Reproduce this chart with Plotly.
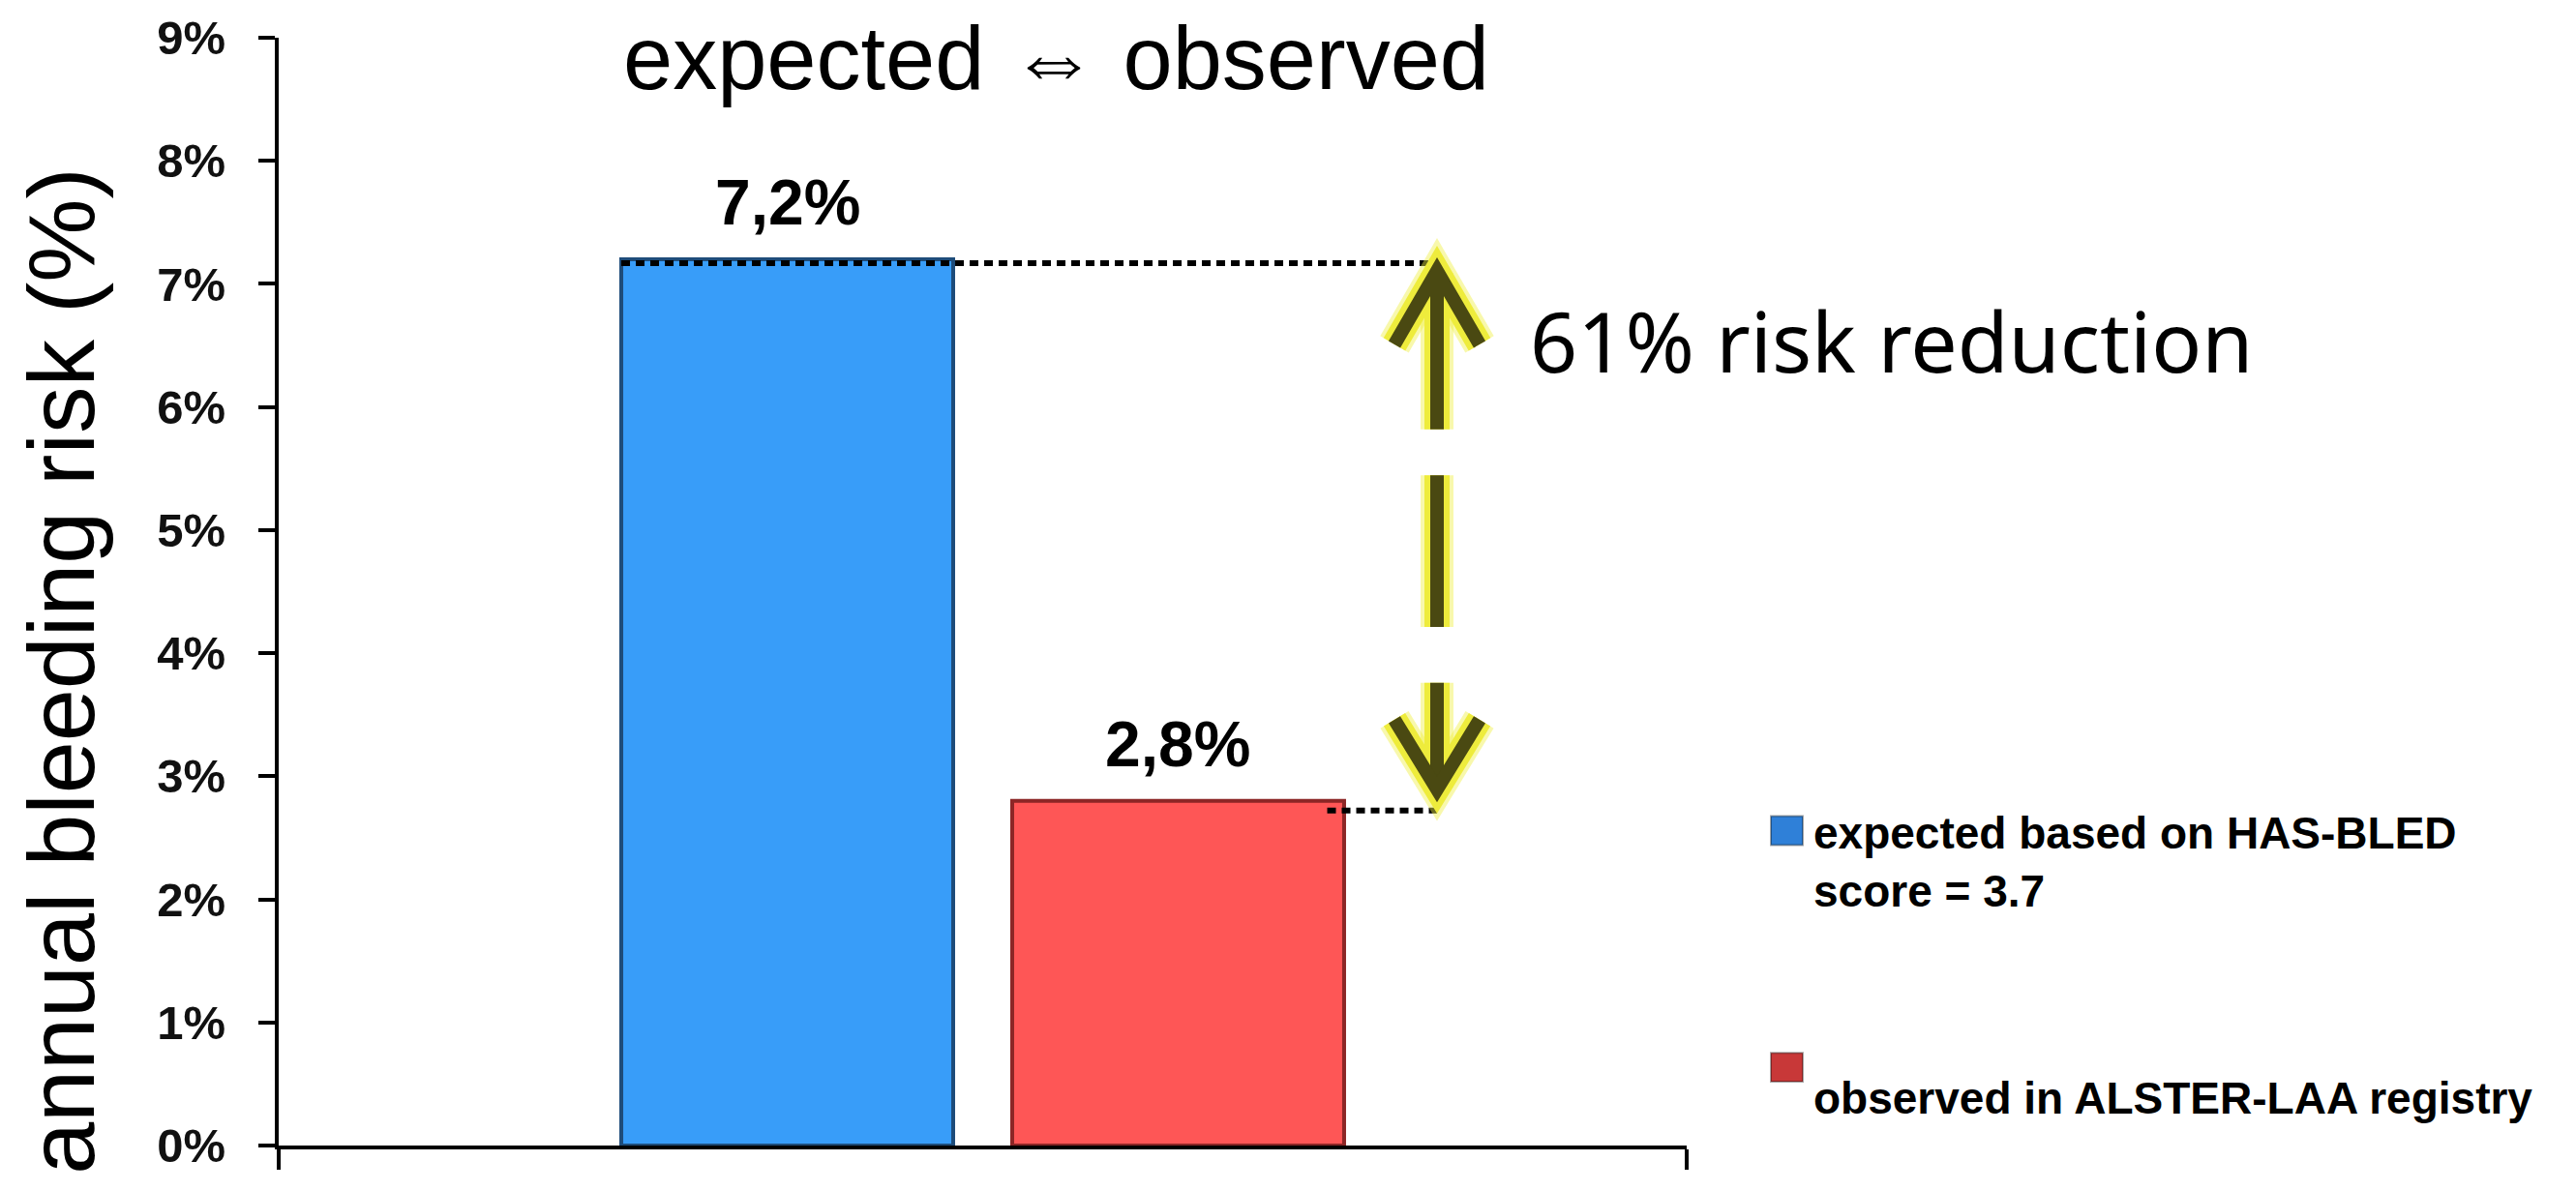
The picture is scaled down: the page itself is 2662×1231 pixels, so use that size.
import plotly.graph_objects as go

# ---------------- data ----------------
categories = ["ALSTER-LAA"]
series_names = ["expected based on HAS-BLED<br>score = 3.7", "observed in ALSTER-LAA registry"]
series_values = [7.2, 2.8]
value_labels = ["7,2%", "2,8%"]
bar_colors = ["#389DF9", "#FE5656"]
edge_colors = ["#1E4C7A", "#8C2626"]
legend_colors = ["#2F80D8", "#C83838"]
tick_values = [0, 1, 2, 3, 4, 5, 6, 7, 8, 9]
tick_labels = ["0%", "1%", "2%", "3%", "4%", "5%", "6%", "7%", "8%", "9%"]
title_text = "expected \u21d4 observed"
y_title = "annual bleeding risk (%)"
reduction_text = "61% risk reduction"

# ---------------- layout geometry ----------------
W, H = 2662, 1231
ML, MR, MT, MB = 288, 919, 37, 47
PW, PH = W - ML - MR, H - MT - MB
BARGAP, BARGROUPGAP = 0.4447, 0.151

def px_x(px):      # pixel -> paper x
    return (px - ML) / PW

def px_y(py):      # pixel -> paper y
    return (H - MB - py) / PH

YPX = PH / 9.0     # pixels per data unit on y

fig = go.Figure()
for name, val, col, edge in zip(series_names, series_values, bar_colors, edge_colors):
    fig.add_trace(go.Bar(
        x=categories, y=[val], name=name,
        marker=dict(color=col, line=dict(color=edge, width=4)),
        showlegend=False, hoverinfo="skip",
    ))

shapes = []
annotations = []

# data labels above bars
slot = (1 - BARGAP) / 2
offsets = [-slot / 2, slot / 2]
for off, val, lab in zip(offsets, series_values, value_labels):
    annotations.append(dict(
        x=off, y=val, xref="x", yref="y", text=lab, showarrow=False,
        xanchor="center", yanchor="bottom", yshift=20,
        font=dict(family="Liberation Sans, Arial", size=66, color="black", weight="bold"),
    ))

# dotted guide lines
top, bot = series_values
arrow_x = px_x(1485)
bar_left = 0.5 + offsets[0] - slot * (1 - BARGROUPGAP) / 2
bar_right = 0.5 + offsets[1] + slot * (1 - BARGROUPGAP) / 2
dot_line = dict(color="black", width=6, dash="9px,6px")
shapes.append(dict(type="line", xref="paper", yref="y", x0=bar_left, x1=arrow_x,
                   y0=top - 4 / YPX, y1=top - 4 / YPX, line=dot_line, layer="above"))
shapes.append(dict(type="line", xref="paper", yref="y", x0=bar_right - 0.012, x1=arrow_x,
                   y0=bot - 10 / YPX, y1=bot - 10 / YPX, line=dot_line, layer="above"))

# double arrow (glowing)
span = top - bot
def yat(frac):
    return top - frac * span
hw = 44 / PW
segments = [
    ("path", f"M {arrow_x - hw},{yat(0.157)} L {arrow_x},{top - 12 / YPX} L {arrow_x + hw},{yat(0.157)}"),
    ("line", (top - 14 / YPX, yat(0.314))),
    ("line", (yat(0.399), yat(0.679))),
    ("line", (yat(0.782), bot + 14 / YPX)),
    ("path", f"M {arrow_x - hw},{yat(0.85)} L {arrow_x},{bot + 12 / YPX} L {arrow_x + hw},{yat(0.85)}"),
]
for color, width in [("rgba(240,240,70,0.45)", 34), ("#EEEC3C", 26), ("#4A4912", 14)]:
    for kind, geo in segments:
        if kind == "path":
            shapes.append(dict(type="path", xref="paper", yref="y", path=geo,
                               line=dict(color=color, width=width), layer="above"))
        else:
            shapes.append(dict(type="line", xref="paper", yref="y", x0=arrow_x, x1=arrow_x,
                               y0=geo[0], y1=geo[1], line=dict(color=color, width=width), layer="above"))

# titles / texts
annotations.append(dict(
    x=px_x(1091), y=px_y(58), xref="paper", yref="paper", text=title_text, showarrow=False,
    xanchor="center", yanchor="middle",
    font=dict(family="Liberation Sans, Arial", size=92, color="black"),
))
annotations.append(dict(
    x=px_x(64), y=px_y(693), xref="paper", yref="paper", text=y_title, showarrow=False,
    textangle=-90, xanchor="center", yanchor="middle",
    font=dict(family="Liberation Sans, Arial", size=97, color="black"),
))
annotations.append(dict(
    x=px_x(1579), y=px_y(350), xref="paper", yref="paper", text=reduction_text, showarrow=False,
    xanchor="left", yanchor="middle",
    font=dict(family="Noto Sans", size=86, color="black"),
))

# manual legend
legend_boxes = [(843, 873), (1088, 1118)]
legend_text_y = [890, 1135]
for name, col, (y0, y1), ty in zip(series_names, legend_colors, legend_boxes, legend_text_y):
    shapes.append(dict(type="rect", xref="paper", yref="paper",
                       x0=px_x(1830), x1=px_x(1863), y0=px_y(y1), y1=px_y(y0),
                       fillcolor=col, line=dict(color="rgba(0,0,0,0.35)", width=2)))
    annotations.append(dict(
        x=px_x(1872), y=px_y(ty), xref="paper", yref="paper", text=name, showarrow=False,
        xanchor="left", yanchor="middle", align="left",
        font=dict(family="Liberation Sans, Arial", size=46, color="black", weight="bold"),
    ))

fig.update_layout(
    width=W, height=H,
    margin=dict(l=ML, r=MR, t=MT, b=MB, pad=0),
    paper_bgcolor="white", plot_bgcolor="white",
    barmode="group", bargap=BARGAP, bargroupgap=BARGROUPGAP,
    showlegend=False,
    shapes=shapes, annotations=annotations,
    xaxis=dict(
        type="category", range=[-0.5, 0.5], showline=True, linecolor="black", linewidth=4,
        ticks="outside", tickson="boundaries", ticklen=21, tickwidth=4, tickcolor="black",
        showticklabels=False, showgrid=False, zeroline=False, fixedrange=True,
    ),
    yaxis=dict(
        range=[0, 9], tickvals=tick_values, ticktext=tick_labels,
        showline=True, linecolor="black", linewidth=4,
        ticks="outside", ticklen=17, tickwidth=4, tickcolor="black",
        tickfont=dict(family="Liberation Sans, Arial", size=49, color="#111111", weight="bold"),
        ticklabelstandoff=24,
        showgrid=False, zeroline=False, fixedrange=True,
    ),
)

fig.write_html("out.html", config={"displayModeBar": False})
